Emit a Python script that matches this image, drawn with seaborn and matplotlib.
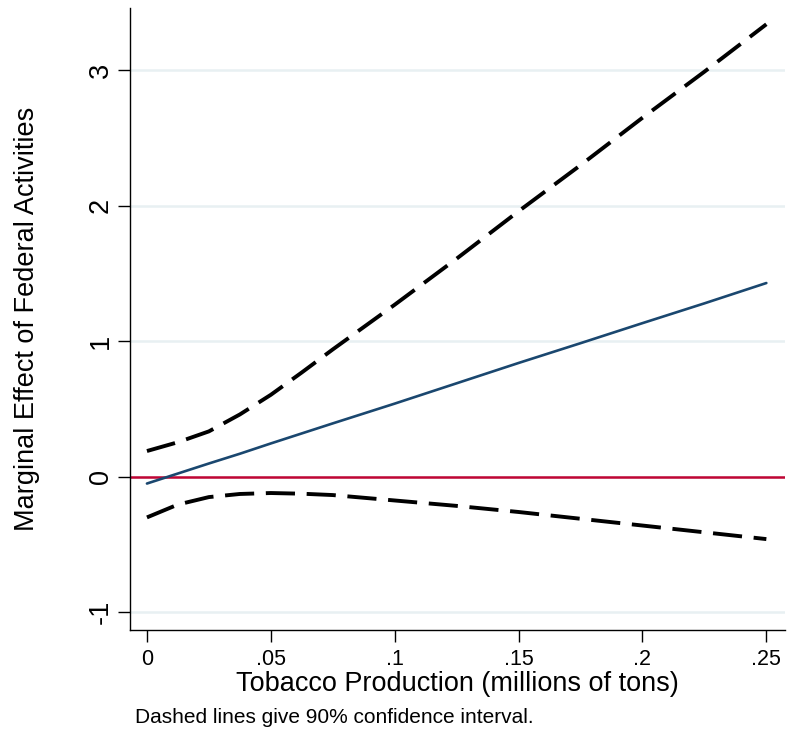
import numpy as np
import pandas as pd
import seaborn as sns
import matplotlib.pyplot as plt

# values
tobacco = [0, 0.0125, 0.025, 0.0375, 0.05, 0.0625, 0.075, 0.1, 0.125, 0.15, 0.175, 0.2, 0.225, 0.25]
marg_eff = [-0.05, 0.024, 0.098, 0.17, 0.246, 0.32, 0.394, 0.54, 0.69, 0.84, 0.986, 1.134, 1.28, 1.43]
upper_ci = [0.19, 0.255, 0.335, 0.46, 0.605, 0.77, 0.94, 1.27, 1.61, 1.96, 2.30, 2.65, 2.99, 3.34]
lower_ci = [-0.30, -0.205, -0.15, -0.127, -0.12, -0.125, -0.135, -0.175, -0.215, -0.26, -0.31, -0.36, -0.41, -0.46]

xticks = [0, 0.05, 0.1, 0.15, 0.2, 0.25]
xtick_labels = ['0', '.05', '.1', '.15', '.2', '.25']
yticks = [-1, 0, 1, 2, 3]

df = pd.DataFrame({'x': tobacco, 'me': marg_eff, 'hi': upper_ci, 'lo': lower_ci})

sns.set_style('white')
plt.rcParams['font.family'] = ['Liberation Sans', 'DejaVu Sans']
plt.rcParams['text.color'] = 'black'
plt.rcParams['axes.labelcolor'] = 'black'

fig = plt.figure(figsize=(7.87, 7.29), dpi=100)
ax = fig.add_axes([0.165, 0.136, 0.833, 0.853])

for yt in yticks:
    ax.axhline(yt, color='#e8f0f2', lw=1.8, zorder=0)
ax.axhline(0, color='#c10534', lw=1.8, zorder=1)

sns.lineplot(data=df, x='x', y='hi', ax=ax, color='black', lw=2.8)
ax.lines[-1].set_dashes((7.5, 3))
sns.lineplot(data=df, x='x', y='lo', ax=ax, color='black', lw=2.8)
ax.lines[-1].set_dashes((7.5, 3))
sns.lineplot(data=df, x='x', y='me', ax=ax, color='#1a476f', lw=1.9)

ax.set_xlim(-0.0069, 0.2577)
ax.set_ylim(-1.13, 3.46)
ax.set_xticks(xticks)
ax.set_xticklabels(xtick_labels)
ax.set_yticks(yticks)
ax.set_yticklabels([str(v) for v in yticks], rotation=90, va='center')
ax.tick_params(axis='both', which='both', direction='out', length=8.5, width=1,
               bottom=True, left=True, colors='black')
ax.tick_params(axis='x', labelsize=15.5, pad=5)
ax.tick_params(axis='y', labelsize=19.5, pad=3)

for s in ['top', 'right']:
    ax.spines[s].set_visible(False)
for s in ['left', 'bottom']:
    ax.spines[s].set_color('black')
    ax.spines[s].set_linewidth(1)

ax.set_xlabel('Tobacco Production (millions of tons)', fontsize=19.5)
ax.set_ylabel('Marginal Effect of Federal Activities', fontsize=19.5)
ax.xaxis.set_label_coords(0.5, -0.066)
ax.yaxis.set_label_coords(-0.137, 0.5)

fig.text(135 / 787, 1 - 723 / 729, 'Dashed lines give 90% confidence interval.', fontsize=15, va='baseline')

fig.savefig('out.png', dpi=100)
